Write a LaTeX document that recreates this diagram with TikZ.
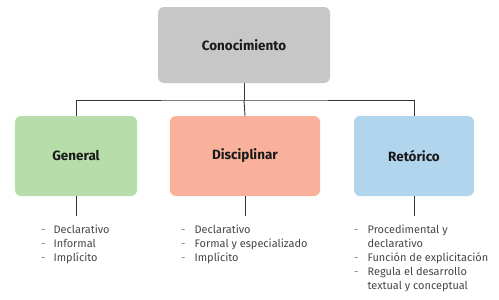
\documentclass[tikz,border=0pt]{standalone}
\usepackage{fontspec}
\setmainfont{Fira Sans}
\usetikzlibrary{positioning}
\definecolor{boxgray}{RGB}{199,199,199}
\definecolor{boxgreen}{RGB}{183,222,170}
\definecolor{boxred}{RGB}{249,177,155}
\definecolor{boxblue}{RGB}{178,213,238}
\definecolor{txtgray}{RGB}{70,70,70}

\begin{document}
\begin{tikzpicture}[
    x=1bp, y=-1bp,
    cat/.style={rectangle, rounded corners=6bp, align=center, minimum height=80bp, font=\fontsize{13.5}{15}\selectfont\bfseries, text=black!90},
    lst/.style={anchor=north west, inner sep=0pt, font=\fontsize{11}{14}\selectfont, text=txtgray},
    link/.style={draw=black!80, line width=0.9pt}
]
\useasboundingbox (0,0) rectangle (499,299);

\node[cat, fill=boxgray, minimum width=172bp, minimum height=76bp] (con) at (244,45) {Conocimiento};
\node[cat, fill=boxgreen, minimum width=122bp] (gen) at (76,156) {General};
\node[cat, fill=boxred,   minimum width=150bp] (dis) at (245,156) {Disciplinar};
\node[cat, fill=boxblue,  minimum width=120bp] (ret) at (414,156) {Retórico};

\coordinate (bus) at (244,100);
\draw[link] (con.south) -- (bus);
\draw[link] (gen.north) |- (bus) -| (ret.north);
\draw[link] (bus) -- (dis.north);

% listas
\node[lst] (genl) at (41,224) {\begin{tabular}{@{}l@{\hspace{8bp}}l@{}}
  \textcolor{gray}{-} & Declarativo\\ \textcolor{gray}{-} & Informal\\ \textcolor{gray}{-} & Implícito\end{tabular}};
\node[lst] (disl) at (181,224) {\begin{tabular}{@{}l@{\hspace{9bp}}l@{}}
  \textcolor{gray}{-} & Declarativo\\ \textcolor{gray}{-} & Formal y especializado\\ \textcolor{gray}{-} & Implícito\end{tabular}};
\node[lst] (retl) at (354,224) {\begin{tabular}{@{}l@{\hspace{9bp}}l@{}}
  \textcolor{gray}{-} & Procedimental y\\ & declarativo\\ \textcolor{gray}{-} & Función de explicitación\\
  \textcolor{gray}{-} & Regula el desarrollo\\ & textual y conceptual\end{tabular}};

\draw[link] (gen.south) -- (gen.south |- 0,216);
\draw[link] (dis.south) -- (dis.south |- 0,216);
\draw[link] (ret.south) -- (ret.south |- 0,216);
\end{tikzpicture}
\end{document}
